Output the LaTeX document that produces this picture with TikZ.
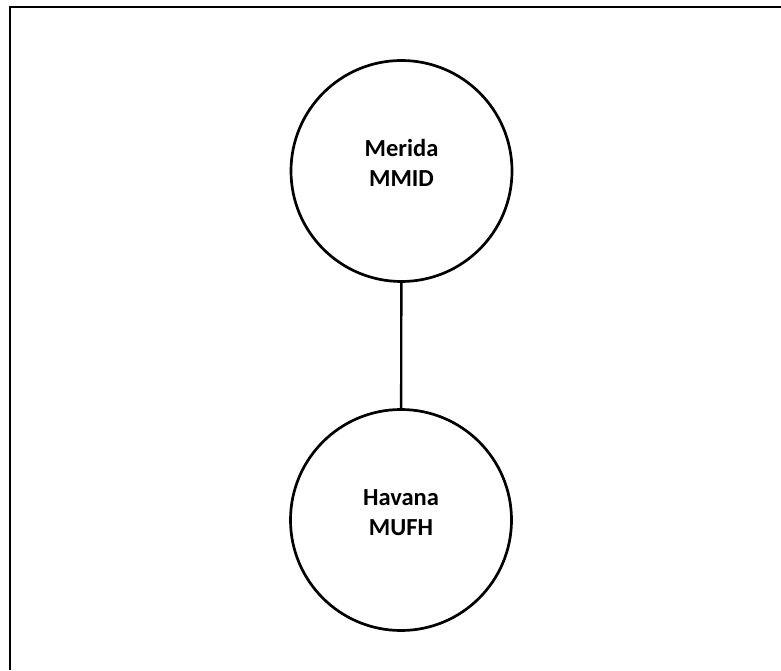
\documentclass[tikz,border=0pt]{standalone}
\usepackage{fontspec}
\setmainfont{Carlito}
\usetikzlibrary{positioning}

\begin{document}
\begin{tikzpicture}[x=1pt,y=1pt,
    airport/.style={circle,draw,line width=2.7pt,minimum size=221pt,inner sep=0pt},
    citylbl/.style={align=center,font=\fontsize{24.5}{30}\selectfont\bfseries}]
    \useasboundingbox (0,0) rectangle (781,670);
    % frame of the sheet
    \draw[line width=2.6pt](10,0)--(10,663)--(781,663);
    \node[airport] (merida) at (401.5,499) {};
    \node[airport] (havana) at (401,150) {};
    \node[citylbl] (meridaLbl) at ([yshift=8]merida.center) {Merida\\MMID};
    \node[citylbl] (havanaLbl) at ([yshift=7]havana.center) {Havana\\MUFH};
    \draw[line width=2.4pt](merida)--(havana);
\end{tikzpicture}
\end{document}
